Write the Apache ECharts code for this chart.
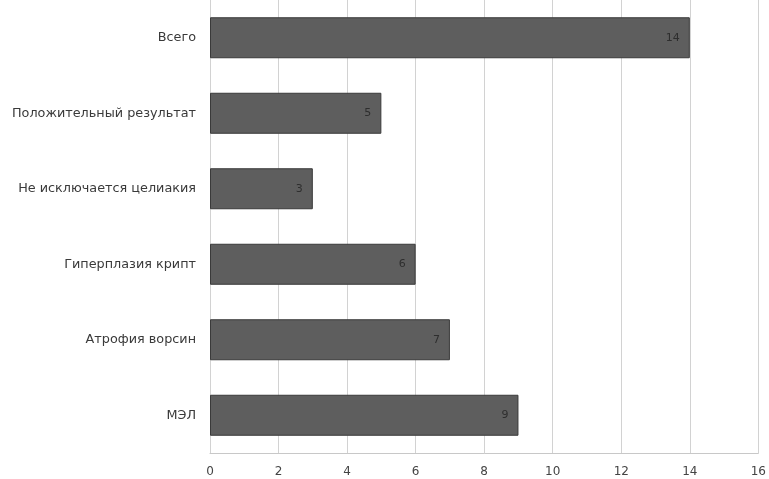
<!DOCTYPE html>
<html><head><meta charset="utf-8">
<script src="https://cdn.jsdelivr.net/npm/echarts@6/dist/echarts.min.js"></script>
<style>html,body{margin:0;padding:0;background:#fff}#c{width:769px;height:479px}</style>
</head><body><div id="c"></div>
<script>
const categories = ["МЭЛ","Атрофия ворсин","Гиперплазия крипт","Не исключается целиакия","Положительный результат","Всего"];
const values = [9,7,6,3,5,14];
const xTicks = [0,2,4,6,8,10,12,14,16];
const chart = echarts.init(document.getElementById('c'));
chart.setOption({
  animation:false,
  grid:{left:210,right:7,top:-3,bottom:26,containLabel:false},
  xAxis:{type:'value',min:0,max:16,interval:2,
    axisLine:{show:true,lineStyle:{color:'#c8c8c8'}},axisTick:{show:false},
    axisLabel:{color:'#444',fontFamily:'DejaVu Sans',fontSize:12,margin:13,
      formatter:v=>xTicks.includes(v)?String(v):''},
    splitLine:{show:true,lineStyle:{color:'#d2d2d2',width:1}}},
  yAxis:{type:'category',data:categories,
    axisLine:{show:false},axisTick:{show:false},
    axisLabel:{color:'#3a3a3a',fontFamily:'DejaVu Sans',fontSize:12.8,margin:14}},
  series:[{type:'bar',data:values,barWidth:41,
    itemStyle:{color:'#5e5e5e',borderColor:'#3a3a3a',borderWidth:1},
    label:{show:true,position:'insideRight',color:'#2e2e2e',fontFamily:'DejaVu Sans',fontSize:11,distance:10}}]
});
</script></body></html>
